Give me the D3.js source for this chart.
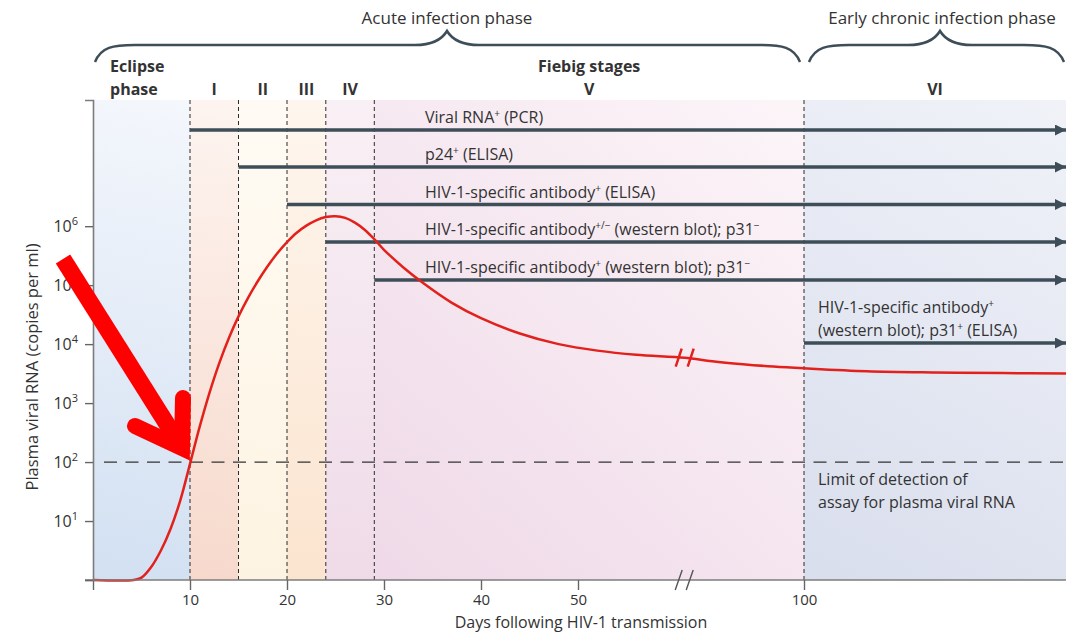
<!DOCTYPE html>
<html>
<head>
<meta charset="utf-8">
<script src="https://cdn.jsdelivr.net/npm/d3@7"></script>
<style>
  body { margin: 0; background: #fff; }
  svg text { font-family: "Open Sans", sans-serif; fill: #333; }
</style>
</head>
<body>
<div id="chart"></div>
<script>
// Viral load curve (days after transmission, log10 copies per ml)
var days = [0, 4.2, 5, 6, 7, 8, 9, 10, 11, 12, 13, 14, 15, 16, 17, 18, 19, 20, 21, 22, 23, 24,
            25, 26, 27, 28, 29, 30, 32, 34, 37, 40, 44, 48, 52, 56, 61, 70, 80, 90, 100,
            112, 125, 138, 150];
var logViralLoad = [0, 0, 0.04, 0.22, 0.5, 0.87, 1.35, 1.97, 2.6, 3.17, 3.67, 4.1, 4.47, 4.79, 5.07,
            5.32, 5.54, 5.73, 5.89, 6.01, 6.1, 6.155, 6.17, 6.14, 6.06, 5.94, 5.78, 5.6, 5.3, 5.04,
            4.7, 4.44, 4.18, 4.0, 3.89, 3.82, 3.77, 3.71, 3.66, 3.62, 3.59, 3.54, 3.52,
            3.51, 3.5];

// Fiebig stage boundaries (days) and names
var stageBounds = [0, 10, 15, 20, 24, 29, 100, 150];
var stageNames = ["", "I", "II", "III", "IV", "V", "VI"];

// Axis ticks
var xTickValues = [0, 10, 20, 30, 40, 50, 100];
var yTickExponents = [0, 1, 2, 3, 4, 5, 6];
var breakDay = 61;
var detectionLimit = 100;

// Assays: label (^...^ marks superscript) and day they become positive
var assayLabels = [
  ["Viral RNA^+^ (PCR)"],
  ["p24^+^ (ELISA)"],
  ["HIV-1-specific antibody^+^ (ELISA)"],
  ["HIV-1-specific antibody^+/\u2212^ (western blot); p31^\u2212^"],
  ["HIV-1-specific antibody^+^ (western blot); p31^\u2212^"],
  ["HIV-1-specific antibody^+^", "(western blot); p31^+^ (ELISA)"]
];
var assayStartDay = [10, 15, 20, 24, 29, 100];

// Styles
var stageColorA = ["#d2e0f2", "#f7d9cc", "#fdf3e2", "#fbe4cf", "#efdbe8", "#efd9e8", "#d9deed"];
var stageColorB = ["#f4f7fc", "#fdf4f0", "#fffbf4", "#fef6ee", "#f9f0f5", "#fcf5f8", "#f0f2f8"];
var assayRowY = [30, 67, 104.5, 142, 180, 243];
var slate = "#3e4e59";

var svgWidth = 1066;
var svgHeight = 634;
var margin = { top: 100, right: 0, bottom: 54, left: 93 };
var chartWidth = svgWidth - margin.left - margin.right;
var chartHeight = svgHeight - margin.top - margin.bottom;

var svg = d3.select("#chart")
  .append("svg")
  .attr("width", svgWidth)
  .attr("height", svgHeight);

var defs = svg.append("defs");

var chart = svg.append("g")
  .attr("transform", `translate(${margin.left}, ${margin.top})`);

// Broken x axis: linear up to the break, compressed afterwards
var x = d3.scaleLinear()
  .domain([0, breakDay, 100, 150])
  .range([0, breakDay * 9.7, 711, chartWidth]);

var y = d3.scaleLog()
  .domain([1, Math.pow(10, 8.14)])
  .range([chartHeight, 0]);

// helper: write text with ^sup^ segments
function richText(sel, str, supSize) {
  var parts = str.split("^");
  parts.forEach(function(p, i) {
    if (!p) return;
    var t = sel.append("tspan").text(p);
    if (i % 2 === 1) {
      t.attr("font-size", supSize).attr("dy", -6);
    } else if (i > 0) {
      t.attr("dy", 6);
    }
  });
}

// Stage backgrounds (diagonal gradient, bottom-left to top-right of each stage)
stageNames.forEach(function(name, i) {
  var g = defs.append("linearGradient")
    .attr("id", "stage" + i)
    .attr("gradientUnits", "userSpaceOnUse")
    .attr("x1", x(stageBounds[i])).attr("y1", chartHeight)
    .attr("x2", x(stageBounds[i + 1])).attr("y2", 0);
  g.append("stop").attr("offset", "0%").attr("stop-color", stageColorA[i]);
  g.append("stop").attr("offset", "100%").attr("stop-color", stageColorB[i]);
});

chart.selectAll(".stage")
  .data(stageNames)
  .enter()
  .append("rect")
  .attr("x", (d, i) => x(stageBounds[i]))
  .attr("y", 0)
  .attr("width", (d, i) => x(stageBounds[i + 1]) - x(stageBounds[i]))
  .attr("height", chartHeight)
  .attr("fill", (d, i) => `url(#stage${i})`);

// Stage boundaries
chart.selectAll(".boundary")
  .data(stageBounds.slice(1, 7))
  .enter()
  .append("line")
  .attr("x1", d => x(d)).attr("x2", d => x(d))
  .attr("y1", 0).attr("y2", chartHeight)
  .attr("stroke", "#2b2b2b")
  .attr("stroke-width", 1)
  .attr("stroke-dasharray", "4,3");

// Detection limit
chart.append("line")
  .attr("x1", 11).attr("x2", chartWidth)
  .attr("y1", y(detectionLimit)).attr("y2", y(detectionLimit))
  .attr("stroke", "#333")
  .attr("stroke-width", 1.3)
  .attr("stroke-dasharray", "13,8.5");

var limitText = chart.append("text")
  .attr("x", x(100) + 14)
  .attr("y", y(detectionLimit) + 23)
  .attr("font-size", 16);
limitText.append("tspan").text("Limit of detection of");
limitText.append("tspan").attr("x", x(100) + 14).attr("dy", 23).text("assay for plasma viral RNA");

// Assay arrows
defs.append("marker")
  .attr("id", "head")
  .attr("markerUnits", "userSpaceOnUse")
  .attr("viewBox", "0 0 10 10")
  .attr("markerWidth", 11).attr("markerHeight", 11)
  .attr("refX", 10).attr("refY", 5)
  .attr("orient", "auto")
  .append("path")
  .attr("d", "M0,0L10,5L0,10z")
  .attr("fill", slate);

assayLabels.forEach(function(lines, i) {
  var yy = assayRowY[i];
  chart.append("line")
    .attr("x1", x(assayStartDay[i])).attr("x2", chartWidth)
    .attr("y1", yy).attr("y2", yy)
    .attr("stroke", slate)
    .attr("stroke-width", 3.5)
    .attr("marker-end", "url(#head)");
  var tx = i < 5 ? 332 : x(assayStartDay[i]) + 14;
  lines.forEach(function(line, j) {
    var t = chart.append("text")
      .attr("x", tx)
      .attr("y", yy - 7 - (lines.length - 1 - j) * 23)
      .attr("font-size", 16);
    richText(t, line, 10);
  });
});

// Viral load curve
var curve = days.map((d, i) => [d, Math.pow(10, logViralLoad[i])]);

var line = d3.line()
  .x(d => x(d[0]))
  .y(d => y(d[1]))
  .curve(d3.curveCatmullRom.alpha(0.5));

chart.append("path")
  .datum(curve)
  .attr("d", line)
  .attr("fill", "none")
  .attr("stroke", "#e2211c")
  .attr("stroke-width", 2.5);

// Break marks on the curve
var breakX = x(breakDay);
var breakY = y(Math.pow(10, 3.77));
[-6, 6].forEach(function(o) {
  chart.append("line")
    .attr("x1", breakX + o - 3).attr("y1", breakY + 9)
    .attr("x2", breakX + o + 3).attr("y2", breakY - 9)
    .attr("stroke", "#e2211c")
    .attr("stroke-width", 2.5);
});

// Axes
var xAxis = chart.append("g")
  .attr("transform", `translate(0, ${chartHeight})`)
  .call(d3.axisBottom(x)
    .tickValues(xTickValues)
    .tickSize(10)
    .tickPadding(4)
    .tickFormat(d => d === 0 ? "" : d));

var yAxis = chart.append("g")
  .call(d3.axisLeft(y)
    .tickValues(yTickExponents.map(e => Math.pow(10, e)))
    .tickSize(8)
    .tickPadding(7));

[xAxis, yAxis].forEach(function(a) {
  a.select(".domain").attr("stroke", "#7c7c7c").attr("stroke-width", 1.6);
  a.selectAll(".tick line").attr("stroke", "#666").attr("stroke-width", 1.4);
  a.selectAll("text").attr("font-family", "Open Sans, sans-serif").attr("fill", "#333");
});
xAxis.select(".domain").attr("d", `M-8,0H${chartWidth}`);
xAxis.selectAll("text").attr("font-size", 15);

yAxis.selectAll(".tick text").each(function(d) {
  var t = d3.select(this);
  var e = Math.round(Math.log10(d));
  t.text(null).attr("font-size", 16);
  if (e === 0) return;
  t.append("tspan").text("10");
  t.append("tspan").attr("font-size", 11).attr("dy", -7).text(e);
});

// Break marks on the x axis
[-6, 5].forEach(function(o) {
  chart.append("line")
    .attr("x1", breakX + o - 3.5).attr("y1", chartHeight + 10)
    .attr("x2", breakX + o + 3.5).attr("y2", chartHeight - 10)
    .attr("stroke", "#555")
    .attr("stroke-width", 1.4);
});

// Axis titles
svg.append("text")
  .attr("text-anchor", "middle")
  .attr("x", 581)
  .attr("y", 628)
  .attr("font-size", 16)
  .text("Days following HIV-1 transmission");

svg.append("text")
  .attr("transform", "translate(38, 367) rotate(-90)")
  .attr("text-anchor", "middle")
  .attr("font-size", 16.5)
  .text("Plasma viral RNA (copies per ml)");

// Stage headings
var head = svg.append("g").attr("font-weight", "bold").attr("font-size", 16);
stageNames.forEach(function(name, i) {
  if (!name) return;
  head.append("text")
    .attr("text-anchor", "middle")
    .attr("x", margin.left + (x(stageBounds[i]) + x(stageBounds[i + 1])) / 2)
    .attr("y", 95)
    .text(name);
});
head.append("text").attr("x", 110).attr("y", 72).text("Eclipse");
head.append("text").attr("x", 110).attr("y", 95).text("phase");
head.append("text")
  .attr("text-anchor", "middle")
  .attr("x", margin.left + (x(29) + x(100)) / 2)
  .attr("y", 72)
  .text("Fiebig stages");

// Phase braces
function brace(x0, x1, xm) {
  var yb = 45, yt = 31, ye = 62;
  return `M${x0},${ye} C${x0 + 6},${yb + 2} ${x0 + 18},${yb} ${x0 + 40},${yb}` +
    ` L${xm - 32},${yb} C${xm - 16},${yb} ${xm - 6},${yb - 4} ${xm},${yt}` +
    ` C${xm + 6},${yb - 4} ${xm + 16},${yb} ${xm + 32},${yb}` +
    ` L${x1 - 40},${yb} C${x1 - 18},${yb} ${x1 - 6},${yb + 2} ${x1},${ye}`;
}

svg.append("path")
  .attr("d", brace(95, 800, 447))
  .attr("fill", "none").attr("stroke", slate).attr("stroke-width", 2.5);
svg.append("path")
  .attr("d", brace(809, 1064, 940))
  .attr("fill", "none").attr("stroke", slate).attr("stroke-width", 2.5);

svg.append("text")
  .attr("text-anchor", "middle").attr("x", 447).attr("y", 24).attr("font-size", 17)
  .text("Acute infection phase");
svg.append("text")
  .attr("text-anchor", "middle").attr("x", 942).attr("y", 24).attr("font-size", 17)
  .text("Early chronic infection phase");

// Red annotation arrow pointing at the first detectable viral RNA
var tipX = margin.left + x(10);
var tipY = margin.top + y(detectionLimit);
var red = svg.append("g")
  .attr("fill", "none")
  .attr("stroke", "#ff0000")
  .attr("stroke-width", 17);
red.append("line")
  .attr("x1", tipX - 127).attr("y1", tipY - 203)
  .attr("x2", tipX - 8).attr("y2", tipY - 14)
  .attr("stroke-linecap", "butt");
red.append("path")
  .attr("d", `M${tipX - 7},${tipY - 64} L${tipX - 8},${tipY - 14} L${tipX - 55},${tipY - 36}`)
  .attr("stroke-width", 16)
  .attr("stroke-linecap", "round")
  .attr("stroke-linejoin", "miter")
  .attr("stroke-miterlimit", 10);
</script>
</body>
</html>
